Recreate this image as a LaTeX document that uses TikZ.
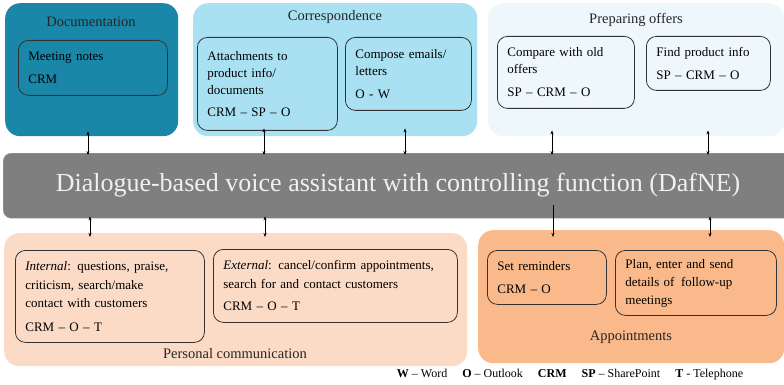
\documentclass[tikz,border=0pt]{standalone}
\usepackage{fontspec}
\setmainfont{Liberation Serif}
\usetikzlibrary{arrows.meta}
\definecolor{docc}{HTML}{1A87A8}
\definecolor{corc}{HTML}{A9E1F2}
\definecolor{offc}{HTML}{EEF7FB}
\definecolor{perc}{HTML}{FBDAC6}
\definecolor{appc}{HTML}{F9B98B}
\definecolor{barc}{HTML}{7F7F7F}
\definecolor{edgec}{HTML}{333333}
\tikzset{
  grp/.style={rounded corners=15pt, inner sep=0pt},
  inbox/.style={draw=edgec, line width=0.8pt, rounded corners=10pt, anchor=north west,
    align=left, inner xsep=10pt, inner ysep=0pt, font=\fontsize{13}{17}\selectfont},
  title/.style={font=\fontsize{14.5}{17}\selectfont, text=black!85},
  conn/.style={{Stealth[length=4pt,width=3pt]}-{Stealth[length=4pt,width=3pt]}, line width=0.6pt},
  conn1/.style={-{Stealth[length=4pt,width=3pt]}, line width=0.6pt},
}
\begin{document}
\begin{tikzpicture}[x=1pt,y=-1pt]
\useasboundingbox (0,0) rectangle (784,385);
% groups
\node[grp, fill=docc, minimum width=173pt, minimum height=133pt, anchor=north west] (doc) at (5,3) {};
\node[grp, fill=corc, minimum width=284pt, minimum height=133pt, anchor=north west] (cor) at (193,3) {};
\node[grp, fill=offc, minimum width=296pt, minimum height=133pt, anchor=north west] (off) at (488,3) {};
\node[grp, fill=perc, minimum width=463pt, minimum height=133pt, anchor=north west] (per) at (4,233) {};
\node[grp, fill=appc, minimum width=306pt, minimum height=133pt, anchor=north west] (app) at (478,230) {};
% bar
\node[fill=barc, draw=black!35, rounded corners=8pt, minimum width=800pt, minimum height=65pt, anchor=north west, inner sep=0pt] (bar) at (3,153) {};
\node[text=white!94!black, font=\fontsize{26}{30}\selectfont] (bartext) at (398,185) {Dialogue-based voice assistant with controlling function (DafNE)};
% titles
\node[title] (tdoc) at (91,22) {Documentation};
\node[title] (tcor) at (335,17) {Correspondence};
\node[title] (toff) at (636,20) {Preparing offers};
\node[title] (tper) at (235,354) {Personal communication};
\node[title] (tapp) at (631,337) {Appointments};
% inner boxes
\node[inbox, text width=129pt, minimum height=55pt] (b1) at (18,40) {Meeting notes\\[6pt]CRM};
\node[inbox, text width=120pt, minimum height=93pt] (b2) at (197,37) {Attachments to\\product info/\\documents\\[5pt]CRM -- SP -- O};
\node[inbox, text width=106pt, minimum height=73pt] (b3) at (345,37) {Compose emails/\\letters\\[6pt]O - W};
\node[inbox, text width=117pt, minimum height=72pt] (b4) at (497,36) {Compare with old\\offers\\[6pt]SP -- CRM -- O};
\node[inbox, text width=104pt, minimum height=54pt] (b5) at (646,36) {Find product info\\[6pt]SP -- CRM -- O};
\node[inbox, text width=169pt, minimum height=92pt, font=\fontsize{13}{18.5}\selectfont] (b6) at (15,250) {\textit{Internal}: questions, praise,\\criticism, search/make\\contact with customers\\[5pt]CRM -- O -- T};
\node[inbox, text width=224pt, minimum height=73pt, font=\fontsize{13}{19}\selectfont] (b7) at (213,249) {\textit{External}: cancel/confirm appointments,\\search for and contact customers\\[3pt]CRM -- O -- T};
\node[inbox, text width=99pt, minimum height=54pt] (b8) at (487,250) {Set reminders\\[6pt]CRM -- O};
\node[inbox, text width=141pt, minimum height=65pt, font=\fontsize{13}{18}\selectfont] (b9) at (615,250) {Plan, enter and send\\details of\, follow-up\\meetings};
% legend
\node[font=\fontsize{12}{14}\selectfont] (legend) at (570,375) {\textbf{W} -- Word\quad\ \textbf{O} -- Outlook\quad\ \textbf{CRM}\quad\ \textbf{SP} -- SharePoint\quad\ \textbf{T} - Telephone};
% connectors
\coordinate (x1) at (88,0);
\coordinate (x2) at (264,0);
\coordinate (x3) at (405,0);
\coordinate (x4) at (552,0);
\coordinate (x5) at (708,0);
\coordinate (y4) at (553,205);
\draw[conn] ([yshift=5pt]doc.south -| x1) -- ([yshift=-2pt]bar.north -| x1);
\draw[conn] ([yshift=8pt]cor.south -| x2) -- ([yshift=-2pt]bar.north -| x2);
\draw[conn] ([yshift=8pt]cor.south -| x3) -- ([yshift=-2pt]bar.north -| x3);
\draw[conn] ([yshift=6pt]off.south -| x4) -- ([yshift=-2pt]bar.north -| x4);
\draw[conn] ([yshift=6pt]off.south -| x5) -- ([yshift=-2pt]bar.north -| x5);
\draw[conn] ([xshift=2pt, yshift=2pt]bar.south -| x1) -- ([xshift=2pt, yshift=-4pt]per.north -| x1);
\draw[conn] ([xshift=1pt, yshift=2pt]bar.south -| x2) -- ([xshift=1pt, yshift=-4pt]per.north -| x2);
\draw[conn1] (y4) -- ([yshift=-7pt]app.north -| y4);
\draw[conn] ([xshift=2pt, yshift=2pt]bar.south -| x5) -- ([xshift=2pt, yshift=-7pt]app.north -| x5);
\end{tikzpicture}
\end{document}
